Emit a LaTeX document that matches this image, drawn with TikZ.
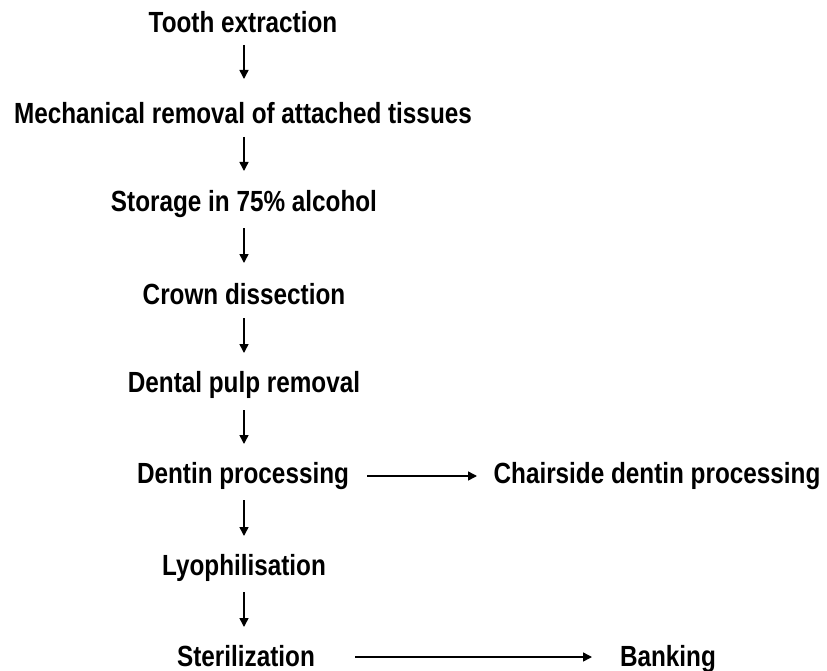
\documentclass[tikz,border=0pt]{standalone}
\usepackage{fontspec}
\usepackage{graphicx}
\setmainfont{Liberation Sans}
\usetikzlibrary{arrows.meta}
\newcommand{\tallt}[1]{\scalebox{1}[1.2]{#1}}
\begin{document}
\begin{tikzpicture}[x=1pt,y=-1pt,
  lbl/.style={font=\fontsize{24.3}{28}\selectfont\bfseries, inner sep=0pt, anchor=center},
  arr/.style={line width=1.5pt, -{Triangle[length=9pt,width=9pt]}}]
\useasboundingbox (0,0) rectangle (827,671);
\node[lbl] (a) at (243,22) {\tallt{Tooth extraction}};
\node[lbl] (b) at (243,113) {\tallt{Mechanical removal of attached tissues}};
\node[lbl] (c) at (244,204) {\tallt{Storage in 75\% alcohol}};
\node[lbl] (d) at (244,294) {\tallt{Crown dissection}};
\node[lbl] (e) at (244,385) {\tallt{Dental pulp removal}};
\node[lbl] (f) at (243,476) {\tallt{Dentin processing}};
\node[lbl] (g) at (657,476) {\tallt{Chairside dentin processing}};
\node[lbl] (h) at (244,568) {\tallt{Lyophilisation}};
\node[lbl] (i) at (246,656) {\tallt{Sterilization}};
\node[lbl, anchor=base] (j) at (668,0 |- i.base) {\tallt{Banking}};
\coordinate (a1) at (244,45); \coordinate (a2) at (244,79);
\coordinate (b1) at (244,137); \coordinate (b2) at (244,171);
\coordinate (c1) at (244,228); \coordinate (c2) at (244,263);
\coordinate (d1) at (244,318); \coordinate (d2) at (244,353);
\coordinate (e1) at (244,410); \coordinate (e2) at (244,444);
\coordinate (f1) at (244,500); \coordinate (f2) at (244,536);
\coordinate (h1) at (244,592); \coordinate (h2) at (244,627);
\coordinate (fx) at (367,476); \coordinate (gx) at (477,476);
\coordinate (ix) at (355,657); \coordinate (jx) at (592,657);
\draw[arr] (a1) -- (a2);
\draw[arr] (b1) -- (b2);
\draw[arr] (c1) -- (c2);
\draw[arr] (d1) -- (d2);
\draw[arr] (e1) -- (e2);
\draw[arr] (f1) -- (f2);
\draw[arr] (h1) -- (h2);
\draw[arr] (fx) -- (gx);
\draw[arr] (ix) -- (jx);
\end{tikzpicture}
\end{document}
